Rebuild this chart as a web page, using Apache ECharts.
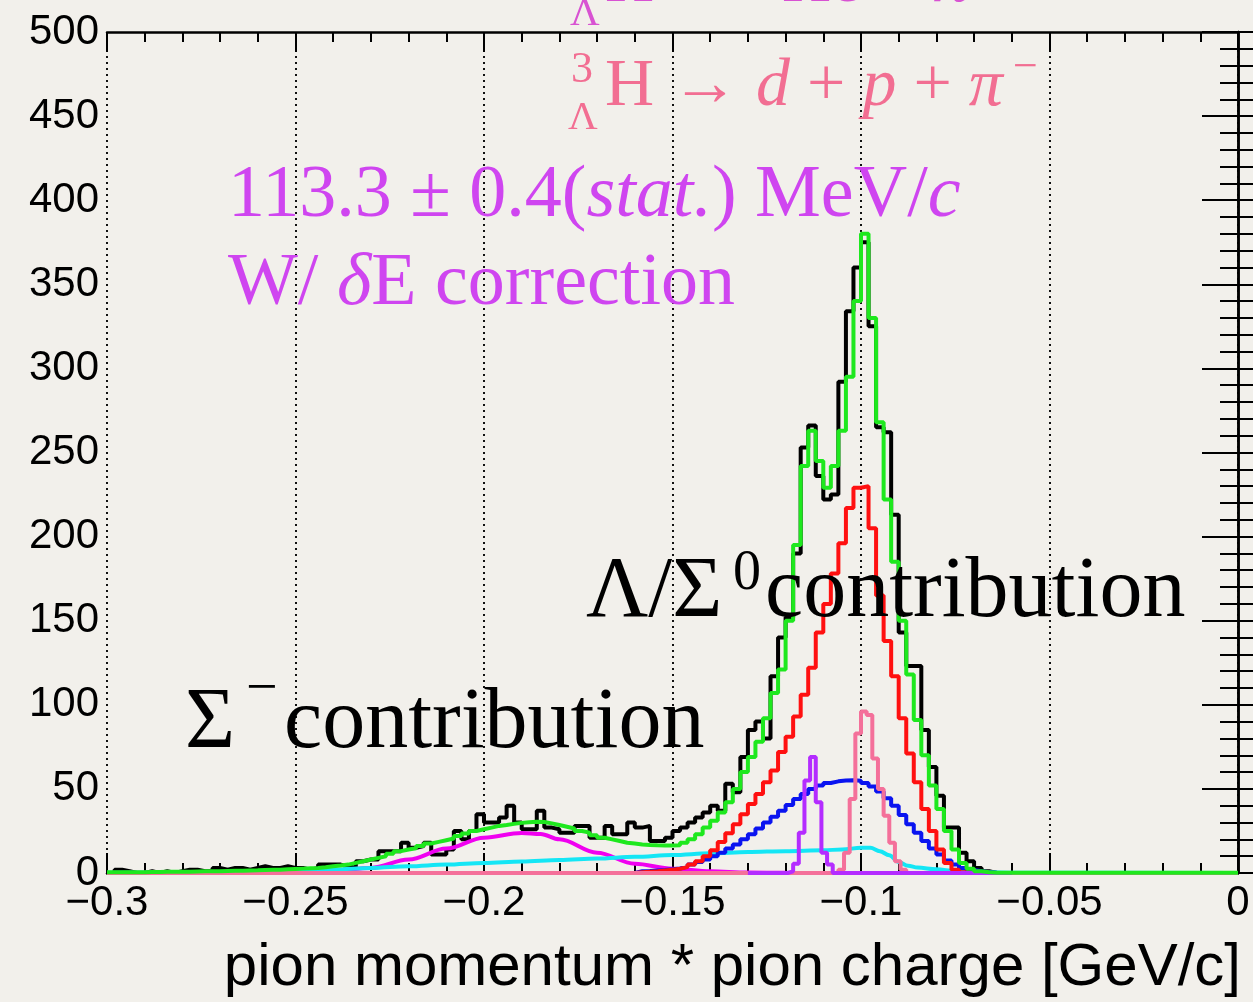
<!DOCTYPE html>
<html>
<head>
<meta charset="utf-8" />
<script src="https://cdn.jsdelivr.net/npm/echarts@6/dist/echarts.min.js"></script>
<style>
  html, body { margin: 0; padding: 0; background: #f2f0eb; }
  #chart { width: 1253px; height: 1002px; }
</style>
</head>
<body>
<div id="chart"></div>
<script>
// ---- data ----
// histogram binning in GeV/c
var binStart = -0.3;
var binWidth = 0.002;

// measured counts (black), 150 bins from -0.3 to 0
var dataCounts = [
  0, 2, 1, 0, 0, 1, 0, 1, 0, 1, 2, 2, 1, 1, 3, 2, 3, 3, 2, 3, 4, 3, 3,
  4, 3, 3, 2, 3, 5, 5, 5, 4, 3, 7, 8, 8, 13, 13, 13, 18, 15, 16, 18, 11, 11, 14, 25, 20, 25, 35,
  30, 30, 33, 40, 30, 26, 26, 37, 27, 26, 24, 24, 28, 28, 21, 21, 28, 23, 23, 30, 27, 28, 19, 19, 21,
  25, 27, 30, 33, 36, 40, 37, 53, 48, 69, 85, 90, 80, 117, 140, 152, 190,
  253, 266, 236, 222, 225, 292, 334, 360, 375, 325, 265, 262, 213, 143, 123, 123, 85, 63, 46, 27, 27, 12, 7, 3, 1,
  0, 0, 0, 0, 0, 0, 0, 0, 0, 0, 0, 0, 0, 0, 0, 0, 0, 0, 0, 0, 0, 0, 0, 0, 0, 0, 0, 0, 0, 0, 0, 0, 0
];

// total fit (green), same binning
var totalFit = [
  0.4, 0.4, 0.5, 0.5, 0.5, 0.6, 0.6, 0.7, 0.7, 0.8, 0.8, 0.9, 1, 1, 1.1, 1.2, 1.3, 1.4, 1.5, 1.6, 1.8, 1.9, 2,
  2.2, 2.4, 2.6, 2.8, 3, 3.4, 4, 4.4, 5, 6, 7, 8, 9, 10, 11.5, 13, 14, 14.7, 16, 17.5, 18.5, 19.5, 20.5, 22, 23.5, 25, 26,
  27, 28, 28.5, 29.2, 29.8, 30.2, 30.5, 30.3, 29.5, 28.5, 27.5, 26.5, 25, 24, 22.5, 21, 20, 19, 18, 17.5, 17, 16.7, 16.5, 16.4, 16.4,
  16.5, 18, 20, 23, 27, 31, 36, 42, 50, 60, 69, 78, 92, 107, 121, 150, 195,
  242, 263, 245, 229, 242, 263, 295, 340, 380, 330, 268, 222, 185, 150, 118, 91, 70, 52, 38, 25, 14, 6, 2.5, 1, 0.5,
  0.2, 0.2, 0.2, 0.2, 0.2, 0.2, 0.2, 0.2, 0.2, 0.2, 0.2, 0.2, 0.2, 0.2, 0.2, 0.2, 0.2, 0.2, 0.2, 0.2, 0.2, 0.2, 0.2, 0.2, 0.2, 0.2, 0.2, 0.2, 0.2, 0.2, 0.2, 0.2, 0.2
];

// Lambda / Sigma0 contribution (red), bins from lambdaStart
var lambdaStart = -0.16;
var lambdaFit = [
  0.5, 0.8, 1, 1.5, 2, 2.5, 3.5, 5, 7, 10, 13.5, 18.5, 23.6, 29, 35, 41, 47, 54, 61, 72, 81, 93,
  106, 122, 143, 160, 178, 196, 217, 229, 230, 205, 165, 138, 117, 92, 71, 54, 38, 25, 14, 6, 2, 0.5, 0
];

// broad component (blue), bins from broadStart
var broadStart = -0.16;
var broadFit = [
  1, 1.2, 1.5, 1.8, 2.2, 2.7, 3.8, 5, 6.5, 8, 10, 12, 14.5, 17, 20, 23, 26.5, 30, 33.5, 37, 40.5, 44,
  47, 50, 52, 53.5, 54.5, 55, 55.2, 54.8, 53.5, 51.5, 48.5, 44.5, 40, 34.5, 29, 24, 19, 14.5, 11, 7.5, 5, 3, 1.8, 1, 0.5, 0.2, 0
];

// narrow two-body peaks, finer bins
var fineWidth = 0.0015;
var violetStart = -0.1195;
var violetFit = [1, 5.5, 24, 55, 69, 42, 12, 5, 0];
var pinkStart = -0.106;
var pinkFit = [2, 12, 44, 83, 96, 94, 68, 50, 34, 18, 7, 2, 0];

// Sigma- contribution (magenta), smooth curve
var sigmaX = [-0.3, -0.27, -0.26, -0.25, -0.24, -0.23, -0.22, -0.21, -0.2, -0.19, -0.185, -0.18, -0.17, -0.16, -0.15, -0.14, -0.13, -0.12, -0.1, 0];
var sigmaY = [0, 0.1, 0.3, 0.7, 1.5, 3, 8, 14.5, 21, 23.8, 23.2, 20, 12, 5.5, 2.5, 1, 0.3, 0.1, 0, 0];

// flat background (cyan), smooth curve
var bgX = [-0.3, -0.28, -0.26, -0.25, -0.24, -0.23, -0.22, -0.21, -0.2, -0.19, -0.18, -0.17, -0.16, -0.15, -0.14, -0.13, -0.12, -0.11, -0.105, -0.1, -0.0975, -0.095, -0.0925, -0.09, -0.0875, -0.085, -0.08, -0.075, -0.07, -0.06, 0];
var bgY = [0.1, 0.3, 0.7, 1, 2, 3, 4, 5, 6, 6.8, 7.7, 8.6, 9.6, 10.7, 11.7, 12.5, 13, 13.5, 14, 15, 15, 13, 10.5, 6.5, 4.3, 3.2, 2.2, 1.2, 0.6, 0.2, 0];

var xLabelTicks = [-0.3, -0.25, -0.2, -0.15, -0.1, -0.05, 0];

// ---- helpers ----
function histLine(start, width, values) {
  var pts = values.map(function (v, i) { return [start + i * width, v]; });
  pts.push([start + values.length * width, values[values.length - 1]]);
  return pts;
}
function padZero(pts) {
  return [[-0.3, 0]].concat(pts).concat([[0, 0]]);
}
function pairs(xs, ys) {
  return xs.map(function (x, i) { return [x, ys[i]]; });
}

var serif = '"Liberation Serif", "Times New Roman", serif';
var sans = '"Liberation Sans", Arial, Helvetica, sans-serif';
var magenta = '#cf45f0';
var pinkText = '#f26e92';
var topText = '#d852d2';
var lw = 4;

function label(x, y, text, size, color, opts) {
  opts = opts || {};
  var style = {
    text: text,
    fontSize: size,
    fontFamily: opts.family || serif,
    fontStyle: opts.italic ? 'italic' : 'normal',
    fill: color,
    align: opts.align || 'left',
    verticalAlign: 'middle'
  };
  if (opts.rich) style.rich = opts.rich;
  return { type: 'text', x: x, y: y, z: 100, silent: true, style: style };
}
function richItalic(size, color) {
  return {
    r: { fontSize: size, fontFamily: serif, fill: color },
    i: { fontSize: size, fontFamily: serif, fontStyle: 'italic', fill: color }
  };
}

var chart = echarts.init(document.getElementById('chart'));

var yTickStyle = {
  axisLine: { show: true, lineStyle: { color: '#000', width: 2.5 } },
  axisTick: { show: true, inside: true, length: 36, lineStyle: { color: '#000', width: 2 } },
  minorTick: { show: true, splitNumber: 5, length: 18, lineStyle: { color: '#000', width: 2 } }
};

var option = {
  backgroundColor: '#f2f0eb',
  animation: false,
  grid: { left: 107, right: 15, top: 32, bottom: 129 },
  xAxis: [{
    type: 'value', min: -0.3, max: 0, interval: 0.05, position: 'bottom',
    axisLine: { show: true, onZero: false, lineStyle: { color: '#000', width: 2.5 } },
    axisTick: { show: true, inside: true, length: 20, lineStyle: { color: '#000', width: 2 } },
    minorTick: { show: true, splitNumber: 5, length: 10, lineStyle: { color: '#000', width: 2 } },
    splitLine: { show: true, lineStyle: { color: '#111', width: 2, type: [2, 4] } },
    axisLabel: {
      margin: 9, fontSize: 42, fontFamily: sans, color: '#000',
      formatter: function (v) {
        var r = Math.round(v * 100) / 100;
        if (xLabelTicks.indexOf(r) < 0) return '';
        return r === 0 ? '0' : '\u2212' + String(Math.abs(r));
      }
    }
  }, {
    type: 'value', min: -0.3, max: 0, interval: 0.05, position: 'top',
    axisLine: { show: true, onZero: false, lineStyle: { color: '#000', width: 2.5 } },
    axisTick: { show: true, inside: true, length: 20, lineStyle: { color: '#000', width: 2 } },
    minorTick: { show: true, splitNumber: 5, length: 10, lineStyle: { color: '#000', width: 2 } },
    splitLine: { show: false },
    axisLabel: { show: false }
  }],
  yAxis: [Object.assign({
    type: 'value', min: 0, max: 500, interval: 50, position: 'left',
    splitLine: { show: false },
    axisLabel: { margin: 8, fontSize: 42, fontFamily: sans, color: '#000' }
  }, yTickStyle), Object.assign({
    type: 'value', min: 0, max: 500, interval: 50, position: 'right',
    splitLine: { show: false },
    axisLabel: { show: false }
  }, yTickStyle)],
  series: [
    {
      name: 'data', type: 'line', step: 'end', symbol: 'none', clip: true,
      data: histLine(binStart, binWidth, dataCounts),
      lineStyle: { color: '#000', width: lw }
    },
    {
      name: 'Sigma-', type: 'line', smooth: 0.35, smoothMonotone: 'x', symbol: 'none', clip: true,
      data: pairs(sigmaX, sigmaY),
      lineStyle: { color: '#f000f0', width: lw }
    },
    {
      name: 'background', type: 'line', smooth: 0.35, smoothMonotone: 'x', symbol: 'none', clip: true,
      data: pairs(bgX, bgY),
      lineStyle: { color: '#14e6f5', width: lw }
    },
    {
      name: 'broad', type: 'line', step: 'end', symbol: 'none', clip: true,
      data: padZero(histLine(broadStart, binWidth, broadFit)),
      lineStyle: { color: '#0a14f0', width: lw }
    },
    {
      name: 'Lambda', type: 'line', step: 'end', symbol: 'none', clip: true,
      data: padZero(histLine(lambdaStart, binWidth, lambdaFit)),
      lineStyle: { color: '#ff1010', width: lw }
    },
    {
      name: 'dpPi', type: 'line', step: 'end', symbol: 'none', clip: true,
      data: padZero(histLine(pinkStart, fineWidth, pinkFit)),
      lineStyle: { color: '#f4709a', width: lw }
    },
    {
      name: 'HePi', type: 'line', step: 'end', symbol: 'none', clip: true,
      data: [[-0.13, 0]].concat(histLine(violetStart, fineWidth, violetFit)).concat([[-0.06, 0]]),
      lineStyle: { color: '#b42cff', width: lw }
    },
    {
      name: 'total', type: 'line', step: 'end', symbol: 'none', clip: true,
      data: histLine(binStart, binWidth, totalFit),
      lineStyle: { color: '#1ee81e', width: lw }
    }
  ],
  graphic: [
    // first decay line, cut by the top edge
    label(570, 14, '\u039B', 41, topText),
    label(605, -17, '{r|H \u2192 }', 68, topText, { rich: richItalic(68, topText) }),
    label(760, -40, '3', 44, topText),
    label(782, -17, '{r|He + }{i|\u03C0}', 68, topText, { rich: richItalic(68, topText) }),
    // second decay line
    label(571, 70, '3', 44, pinkText),
    label(568, 118, '\u039B', 41, pinkText),
    label(605, 87, '{r|H \u2192 }{i|d}{r| + }{i|p}{r| + }{i|\u03C0}', 68, pinkText, { rich: richItalic(68, pinkText) }),
    label(1013, 68, '\u2212', 44, pinkText),
    // result
    label(228, 197, '{r|113.3 \u00B1 0.4(}{i|stat.}{r|) MeV/}{i|c}', 74, magenta, { rich: richItalic(74, magenta) }),
    label(228, 285, '{r|W/ }{i|\u03B4}{r|E correction}', 74, magenta, { rich: richItalic(74, magenta) }),
    // components
    label(586, 593, '\u039B/\u03A3', 86, '#000'),
    label(733, 574, '0', 56, '#000'),
    label(765, 593, 'contribution', 86, '#000'),
    label(185, 724, '\u03A3', 86, '#000'),
    label(246, 690, '\u2212', 56, '#000'),
    label(284, 724, 'contribution', 86, '#000'),
    // axis title
    label(1241, 968, 'pion momentum * pion charge [GeV/c]', 60, '#000', { family: sans, align: 'right' })
  ]
};

chart.setOption(option);
</script>
</body>
</html>
